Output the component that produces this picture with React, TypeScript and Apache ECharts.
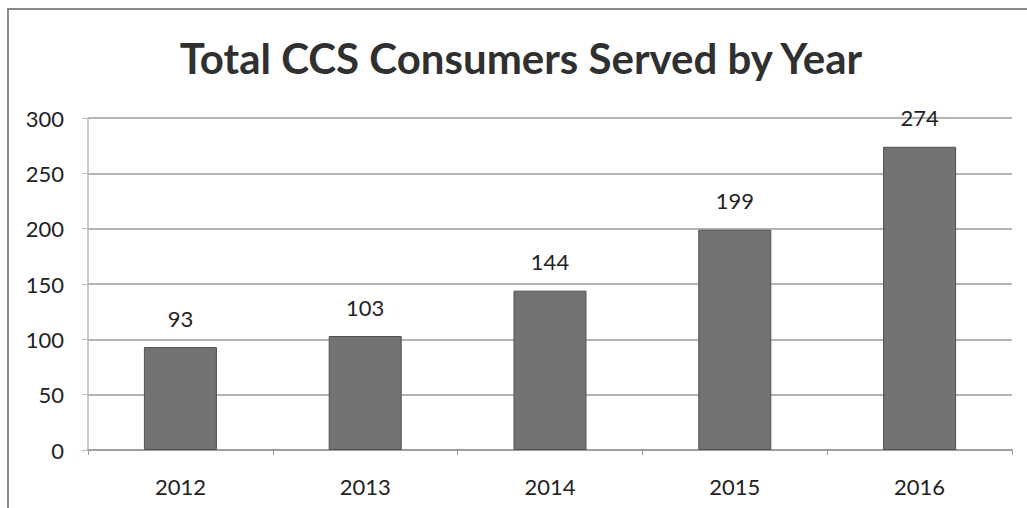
import React, { useEffect, useRef } from "react";
import * as echarts from "echarts";

const categories = ["2012", "2013", "2014", "2015", "2016"];
const consumers = [93, 103, 144, 199, 274];
const titleText = "Total CCS Consumers Served by Year";

export default function App() {
  const ref = useRef<HTMLDivElement>(null);
  useEffect(() => {
    const chart = echarts.init(ref.current!, null, { renderer: "svg" });
    chart.setOption({
      animation: false,
      backgroundColor: "#ffffff",
      graphic: [
        {
          type: "rect",
          shape: { x: 8, y: 9, width: 1040, height: 540 },
          style: { fill: "none", stroke: "#8a8a8a", lineWidth: 2 },
        },
        {
          type: "text",
          x: 521,
          y: 58,
          style: {
            text: titleText,
            font: "bold 42px Lato",
            fill: "#303030",
            textAlign: "center",
            textVerticalAlign: "middle",
          },
        },
      ],
      grid: { left: 88, right: 15, top: 118, bottom: 58 },
      xAxis: {
        type: "category",
        data: categories,
        axisLine: { show: true, lineStyle: { color: "#999999", width: 1.5 } },
        axisTick: { show: true, length: 5, lineStyle: { color: "#999999" } },
        axisLabel: { margin: 25, fontFamily: "Lato", fontSize: 22, color: "#222222" },
      },
      yAxis: {
        type: "value",
        min: 0,
        max: 300,
        interval: 50,
        axisLine: { show: true, lineStyle: { color: "#bbbbbb", width: 1.5 } },
        axisTick: { show: true, length: 6, lineStyle: { color: "#bbbbbb" } },
        axisLabel: { margin: 24, fontFamily: "Lato", fontSize: 22, color: "#222222" },
        splitLine: { show: true, lineStyle: { color: "#9a9a9a", width: 1.5 } },
      },
      series: [
        {
          type: "bar",
          data: consumers,
          barWidth: "39.5%",
          itemStyle: { color: "#737373", borderColor: "#505050", borderWidth: 1 },
          label: {
            show: true,
            position: "top",
            distance: 18,
            fontFamily: "Lato",
            fontSize: 22,
            color: "#222222",
          },
        },
      ],
    });
    return () => chart.dispose();
  }, []);
  return (
    <div
      ref={ref}
      style={{ position: "absolute", left: 0, top: 0, width: 1027, height: 508 }}
    />
  );
}
